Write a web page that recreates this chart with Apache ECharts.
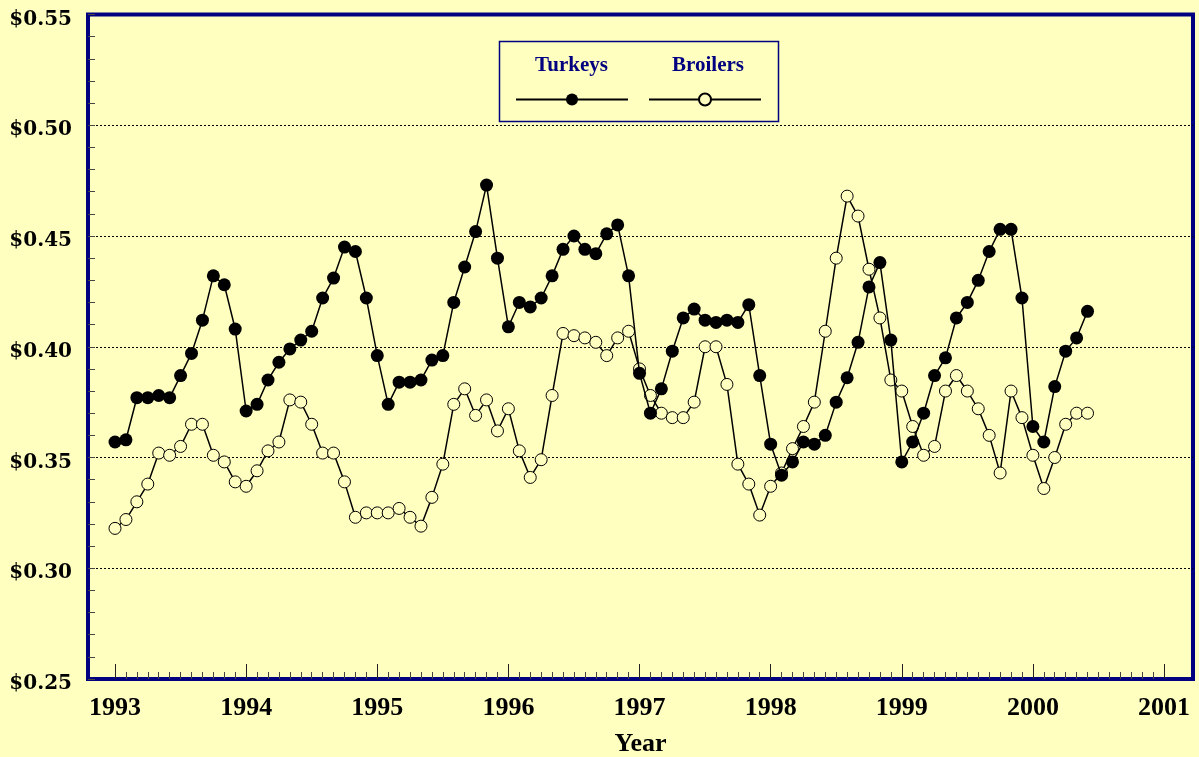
<!DOCTYPE html>
<html>
<head>
<meta charset="utf-8">
<title>Turkeys vs Broilers</title>
<script src="https://cdn.jsdelivr.net/npm/echarts@6/dist/echarts.min.js"></script>
<style>
  html, body { margin: 0; padding: 0; background: #FFFFC0; }
  #chart { width: 1199px; height: 757px; }
</style>
</head>
<body>
<div id="chart"></div>
<script>
// monthly prices, Jan 1993 .. Jun 2000
const startYear = 1993
const yearTicks = [1993, 1994, 1995, 1996, 1997, 1998, 1999, 2000, 2001]
const turkeys = [
  0.357, 0.358, 0.377, 0.377, 0.378, 0.377, 0.387, 0.397, 0.412, 0.432, 0.428, 0.408,
  0.371, 0.374, 0.385, 0.393, 0.399, 0.403, 0.407, 0.422, 0.431, 0.445, 0.443, 0.422,
  0.396, 0.374, 0.384, 0.384, 0.385, 0.394, 0.396, 0.420, 0.436, 0.452, 0.473, 0.440,
  0.409, 0.420, 0.418, 0.422, 0.432, 0.444, 0.450, 0.444, 0.442, 0.451, 0.455, 0.432,
  0.388, 0.370, 0.381, 0.398, 0.413, 0.417, 0.412, 0.411, 0.412, 0.411, 0.419, 0.387,
  0.356, 0.342, 0.348, 0.357, 0.356, 0.360, 0.375, 0.386, 0.402, 0.427, 0.438, 0.403,
  0.348, 0.357, 0.370, 0.387, 0.395, 0.413, 0.420, 0.430, 0.443, 0.453, 0.453, 0.422,
  0.364, 0.357, 0.382, 0.398, 0.404, 0.416
]
const broilers = [
  0.318, 0.322, 0.330, 0.338, 0.352, 0.351, 0.355, 0.365, 0.365, 0.351, 0.348, 0.339,
  0.337, 0.344, 0.353, 0.357, 0.376, 0.375, 0.365, 0.352, 0.352, 0.339, 0.323, 0.325,
  0.325, 0.325, 0.327, 0.323, 0.319, 0.332, 0.347, 0.374, 0.381, 0.369, 0.376, 0.362,
  0.372, 0.353, 0.341, 0.349, 0.378, 0.406, 0.405, 0.404, 0.402, 0.396, 0.404, 0.407,
  0.390, 0.378, 0.370, 0.368, 0.368, 0.375, 0.400, 0.400, 0.383, 0.347, 0.338, 0.324,
  0.337, 0.343, 0.354, 0.364, 0.375, 0.407, 0.440, 0.468, 0.459, 0.435, 0.413, 0.385,
  0.380, 0.364, 0.351, 0.355, 0.380, 0.387, 0.380, 0.372, 0.360, 0.343, 0.380, 0.368,
  0.351, 0.336, 0.350, 0.365, 0.370, 0.370
]

const bg = '#FFFFC0'
const navy = '#000080'

function toPoints(values) {
  return values.map((v, i) => [startYear + i / 12, v])
}

// small month ticks between the year ticks
const monthTicks = []
for (let m = 0; m <= 96; m++) {
  if (m % 12 !== 0) monthTicks.push(startYear + m / 12)
}

const chart = echarts.init(document.getElementById('chart'))
chart.setOption({
  backgroundColor: bg,
  animation: false,
  grid: {
    left: 88,
    right: 6,
    top: 14.5,
    bottom: 78,
    outerBoundsMode: 'none',
    show: true,
    backgroundColor: bg,
    borderColor: navy,
    borderWidth: 4
  },
  legend: {
    data: ['Turkeys', 'Broilers'],
    left: 515,
    top: 92,
    padding: 0,
    itemWidth: 112,
    itemHeight: 15,
    itemGap: 19,
    formatter: () => '',
    selectedMode: false
  },
  graphic: [
    {
      type: 'rect',
      shape: { x: 499.5, y: 41.5, width: 279, height: 80 },
      style: { fill: null, stroke: navy, lineWidth: 1.5 },
      z: 1
    },
    {
      type: 'text',
      x: 571.5,
      y: 66,
      style: {
        text: 'Turkeys',
        fill: navy,
        font: 'bold 21px "Liberation Serif"',
        textAlign: 'center',
        textVerticalAlign: 'middle'
      }
    },
    {
      type: 'text',
      x: 708,
      y: 66,
      style: {
        text: 'Broilers',
        fill: navy,
        font: 'bold 21px "Liberation Serif"',
        textAlign: 'center',
        textVerticalAlign: 'middle'
      }
    }
  ],
  xAxis: [
    {
      type: 'value',
      min: 1992.794,
      max: 2001.221,
      name: 'Year',
      nameLocation: 'middle',
      nameGap: 52,
      nameTextStyle: { color: '#000', fontFamily: 'Liberation Serif', fontWeight: 'bold', fontSize: 26 },
      axisLine: { show: false },
      splitLine: { show: false },
      axisTick: {
        show: true,
        inside: true,
        length: 15,
        customValues: yearTicks,
        lineStyle: { color: '#222', width: 1 }
      },
      axisLabel: {
        customValues: yearTicks,
        margin: 16,
        color: '#000',
        fontFamily: 'Liberation Serif',
        fontWeight: 'bold',
        fontSize: 26,
        formatter: v => String(Math.round(v))
      }
    },
    {
      type: 'value',
      min: 1992.794,
      max: 2001.221,
      position: 'bottom',
      axisLine: { show: false },
      splitLine: { show: false },
      axisLabel: { show: false },
      axisTick: {
        show: true,
        inside: true,
        length: 7,
        customValues: monthTicks,
        lineStyle: { color: '#444', width: 1 }
      }
    }
  ],
  yAxis: {
    type: 'value',
    min: 0.25,
    max: 0.55,
    interval: 0.05,
    axisLine: { show: false },
    axisTick: { show: true, inside: true, length: 7, lineStyle: { color: '#444' } },
    minorTick: { show: true, splitNumber: 5, length: 7, lineStyle: { color: '#444' } },
    splitLine: {
      show: true,
      showMinLine: false,
      showMaxLine: false,
      lineStyle: { color: '#000', type: [2, 2], width: 1 }
    },
    axisLabel: {
      margin: 16,
      verticalAlign: 'top',
      lineHeight: 10,
      color: '#000',
      fontFamily: 'DejaVu Serif',
      fontWeight: 'bold',
      fontSize: 20,
      formatter: v => '$' + v.toFixed(2)
    }
  },
  series: [
    {
      name: 'Broilers',
      type: 'line',
      data: toPoints(broilers),
      symbol: 'circle',
      symbolSize: 12,
      itemStyle: { color: bg, borderColor: '#000', borderWidth: 1 },
      lineStyle: { color: '#000', width: 1.5 },
      z: 3
    },
    {
      name: 'Turkeys',
      type: 'line',
      data: toPoints(turkeys),
      symbol: 'circle',
      symbolSize: 13,
      itemStyle: { color: '#000' },
      lineStyle: { color: '#000', width: 1.5 },
      z: 4
    }
  ]
})
</script>
</body>
</html>
